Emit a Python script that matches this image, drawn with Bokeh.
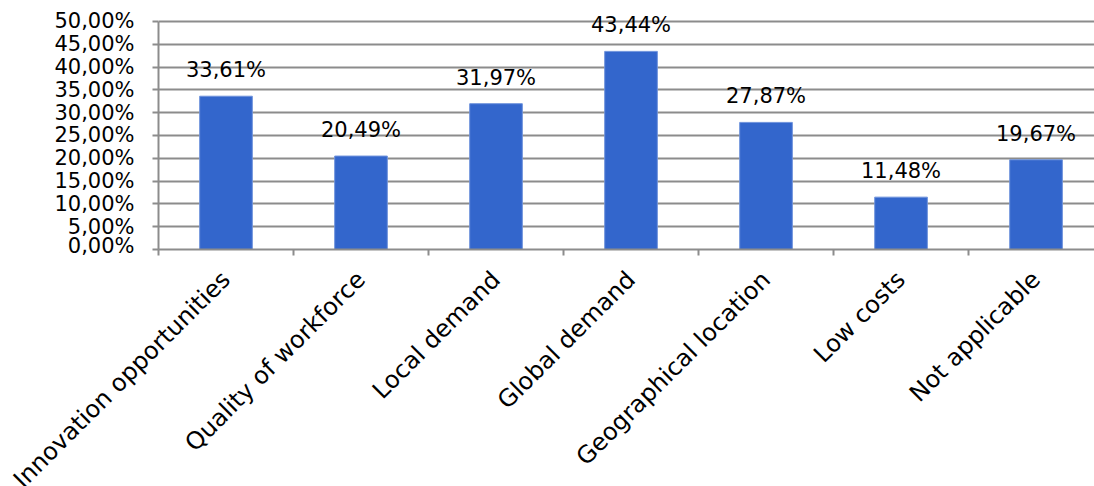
import math
from bokeh.plotting import figure
from bokeh.layouts import column
from bokeh.models import ColumnDataSource, Range1d, FixedTicker, CustomJSTickFormatter
from bokeh.core.properties import value
from bokeh.embed import file_html
from bokeh.resources import INLINE

categories = ["Innovation opportunities", "Quality of workforce", "Local demand",
              "Global demand", "Geographical location", "Low costs", "Not applicable"]
shares = [0.3361, 0.2049, 0.3197, 0.4344, 0.2787, 0.1148, 0.1967]
y_ticks = [0.0, 0.05, 0.10, 0.15, 0.20, 0.25, 0.30, 0.35, 0.40, 0.45, 0.50]

FONT = "DejaVu Sans"
FS = "21px"
XFS = "24px"

xs = list(range(len(categories)))
labels = [("%.2f%%" % (v * 100)).replace(".", ",") for v in shares]
src = ColumnDataSource(dict(x=xs, top=shares, label=labels, cat=categories,
                            one=[1.0] * len(categories)))

W = 1094
LEFT = 158
X0, X1 = -0.5, 6.433
MAIN_H = 257
p = figure(width=W, height=MAIN_H, output_backend="svg", toolbar_location=None,
           x_range=Range1d(X0, X1), y_range=Range1d(0, 0.535),
           min_border_left=LEFT, min_border_right=0, min_border_top=5, min_border_bottom=8)
p.frame_align = False
p.outline_line_color = None
p.background_fill_color = "white"
p.border_fill_color = "white"

p.vbar(x="x", top="top", width=0.39, source=src, fill_color="#3366CC",
       line_color="#6F93DC", line_width=1)
p.text(x="x", y="top", text="label", source=src, text_align="center",
       text_baseline="alphabetic", y_offset=-26, text_font=value(FONT),
       text_font_size=FS, text_color="black")

# y axis
p.yaxis.ticker = FixedTicker(ticks=y_ticks)
p.yaxis.bounds = (0, 0.5)
p.yaxis.formatter = CustomJSTickFormatter(code="return (tick*100).toFixed(2).replace('.', ',') + '%';")
p.yaxis.major_label_text_font = FONT
p.yaxis.major_label_text_font_size = FS
p.yaxis.major_label_text_color = "black"
p.yaxis.axis_line_color = "#8C8C8C"
p.yaxis.axis_line_width = 2
p.yaxis.major_tick_line_color = "#8C8C8C"
p.yaxis.major_tick_line_width = 2
p.yaxis.major_tick_out = 6
p.yaxis.major_tick_in = 0
p.yaxis.minor_tick_line_color = None
p.yaxis.major_label_standoff = 18

# x axis: ticks at category boundaries; category labels drawn in the strip below
bounds_ticks = [i - 0.5 for i in range(len(categories) + 1)]
p.xaxis.ticker = FixedTicker(ticks=xs, minor_ticks=bounds_ticks)
p.xaxis.major_label_overrides = {i: "" for i in xs}
p.xaxis.major_label_text_font_size = "1px"
p.xaxis.major_label_standoff = 0
p.xaxis.major_tick_line_color = None
p.xaxis.minor_tick_line_color = "#8C8C8C"
p.xaxis.minor_tick_line_width = 2
p.xaxis.minor_tick_out = 6
p.xaxis.minor_tick_in = 0
p.xaxis.axis_line_color = "#8C8C8C"
p.xaxis.axis_line_width = 2

p.xgrid.grid_line_color = None
p.ygrid.ticker = FixedTicker(ticks=y_ticks)
p.ygrid.grid_line_color = "#8C8C8C"
p.ygrid.grid_line_width = 2

# strip with rotated category labels, same x scale but spanning the full width
units_per_px = (X1 - X0) / (W - LEFT)
q = figure(width=W, height=486 - MAIN_H, output_backend="svg", toolbar_location=None,
           x_range=Range1d(X0 - LEFT * units_per_px, X1), y_range=Range1d(0, 1),
           min_border_left=0, min_border_right=0, min_border_top=0, min_border_bottom=0)
q.frame_align = False
q.outline_line_color = None
q.axis.visible = False
q.grid.grid_line_color = None
q.border_fill_color = "white"
q.background_fill_color = "white"
q.text(x="x", y="one", text="cat", source=src, angle=math.pi / 4,
       text_align="right", text_baseline="middle", x_offset=0, y_offset=18,
       text_font=value(FONT), text_font_size=XFS, text_color="black")

open("out.html", "w").write(file_html(column(p, q, spacing=0), INLINE))
